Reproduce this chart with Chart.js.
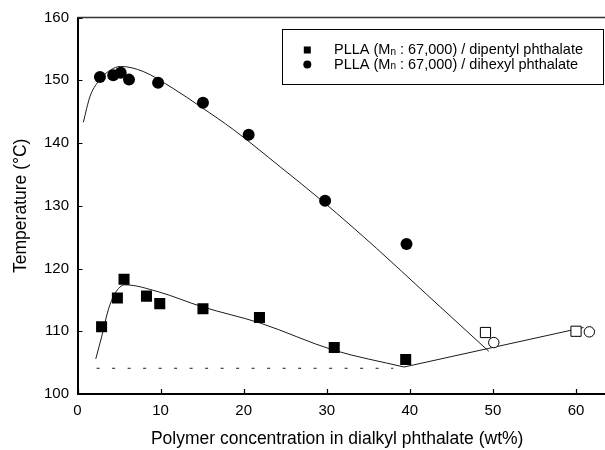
<!DOCTYPE html>
<html>
<head>
<meta charset="utf-8">
<script src="https://cdn.jsdelivr.net/npm/chart.js@4"></script>
<style>
  html, body { margin: 0; padding: 0; background: #fff; }
  #wrap { width: 605px; height: 450px; position: relative; }
</style>
</head>
<body>
<div id="wrap"><canvas id="phaseChart"></canvas></div>
<script>
// measured points (filled = dissolution temp, open = beyond the curve)
const dipentylX = [2.9, 4.8, 5.6, 8.3, 9.9, 15.1, 21.9, 30.9, 39.5];
const dipentylY = [110.7, 115.3, 118.3, 115.6, 114.4, 113.6, 112.2, 107.4, 105.5];
const dihexylX = [2.7, 4.3, 5.2, 6.2, 9.7, 15.1, 20.6, 29.8, 39.6];
const dihexylY = [150.5, 150.8, 151.2, 150.1, 149.6, 146.4, 141.3, 130.8, 123.9];

const dipentylOpenX = [49.1, 60.0];
const dipentylOpenY = [109.8, 110.0];
const dihexylOpenX = [50.1, 61.6];
const dihexylOpenY = [108.2, 109.9];

// fitted curves
const dihexylCurveX = [0.7, 1.5, 2.5, 3.5, 5.2, 7.9, 11.5, 14.8, 18.8, 24.4, 29.6, 36.0, 42.0, 49.5];
const dihexylCurveY = [143.3, 147.4, 149.8, 151.2, 152.2, 151.4, 148.7, 145.8, 142.1, 136.2, 130.6, 123.2, 115.9, 106.8];
const dipentylCurveX = [2.2, 2.9, 3.7, 4.5, 5.7, 9.7, 15.0, 22.0, 30.8, 39.3];
const dipentylCurveY = [105.6, 109.1, 113.4, 116.0, 117.4, 116.3, 113.9, 111.3, 107.0, 104.3];
const crystalLineX = [39.3, 60.9];
const crystalLineY = [104.3, 110.6];
const dashedX = [2.3, 38.0];
const dashedY = [104.1, 104.1];

const xTicks = [0, 10, 20, 30, 40, 50, 60];
const yTicks = [100, 110, 120, 130, 140, 150, 160];

const legendLabels = [
    { style: 'rect', pre: 'PLLA (M', sub: 'n', post: ' : 67,000) / dipentyl phthalate' },
    { style: 'circle', pre: 'PLLA (M', sub: 'n', post: ' : 67,000) / dihexyl phthalate' },
];

function toPoints(xs, ys) {
    return xs.map((x, i) => ({ x: x, y: ys[i] }));
}

const FONT = "'Liberation Sans', Arial, Helvetica, sans-serif";

// inward ticks, frame lines running to the page edge, and the boxed legend
const framePlugin = {
    id: 'frame',
    afterDraw(chart) {
        const { ctx, chartArea: area, scales: { x, y } } = chart;
        ctx.save();
        ctx.strokeStyle = '#000';
        ctx.lineWidth = 1.2;
        ctx.beginPath();
        xTicks.forEach((v) => {
            const px = Math.round(x.getPixelForValue(v)) + 0.5;
            ctx.moveTo(px, area.bottom);
            ctx.lineTo(px, area.bottom - 5);
        });
        yTicks.forEach((v) => {
            const py = Math.round(y.getPixelForValue(v)) + 0.5;
            ctx.moveTo(area.left, py);
            ctx.lineTo(area.left + 5, py);
        });
        ctx.stroke();

        // bottom axis continues past the scale's end
        ctx.lineWidth = 2;
        ctx.beginPath();
        ctx.moveTo(area.right - 1, area.bottom);
        ctx.lineTo(605, area.bottom);
        ctx.stroke();

        ctx.strokeStyle = '#333';
        ctx.lineWidth = 1.6;
        ctx.beginPath();
        ctx.moveTo(area.left, area.top);
        ctx.lineTo(605, area.top);
        ctx.stroke();

        // legend
        const bx = 282.5, by = 29.5, bw = 321, bh = 55;
        ctx.fillStyle = '#fff';
        ctx.fillRect(bx, by, bw, bh);
        ctx.strokeStyle = '#000';
        ctx.lineWidth = 1;
        ctx.strokeRect(bx, by, bw, bh);

        const rows = [50, 64.5];
        legendLabels.forEach((item, i) => {
            const cy = rows[i];
            ctx.fillStyle = '#000';
            if (item.style === 'rect') {
                ctx.fillRect(303.8, cy - 3.5, 7, 7);
            } else {
                ctx.beginPath();
                ctx.arc(307.3, cy, 4, 0, Math.PI * 2);
                ctx.fill();
            }
            ctx.textBaseline = 'middle';
            ctx.textAlign = 'left';
            let tx = 334;
            ctx.font = '14.5px ' + FONT;
            ctx.fillText(item.pre, tx, cy);
            tx += ctx.measureText(item.pre).width;
            ctx.font = '10px ' + FONT;
            ctx.fillText(item.sub, tx, cy + 2);
            tx += ctx.measureText(item.sub).width;
            ctx.font = '14.5px ' + FONT;
            ctx.fillText(item.post, tx, cy);
        });
        ctx.restore();
    },
};

const lineStyle = {
    showLine: true,
    pointRadius: 0,
    borderColor: '#1a1a1a',
    borderWidth: 1,
    fill: false,
};

const chartCanvas = document.getElementById('phaseChart').getContext('2d');

const phaseChart = new Chart(chartCanvas, {
    type: 'scatter',
    data: {
        datasets: [
            {
                label: 'PLLA / dipentyl phthalate',
                data: toPoints(dipentylX, dipentylY),
                pointStyle: 'rect',
                pointRadius: 7.8,
                backgroundColor: '#000',
                borderColor: '#000',
                borderWidth: 0,
            },
            {
                label: 'PLLA / dihexyl phthalate',
                data: toPoints(dihexylX, dihexylY),
                pointStyle: 'circle',
                pointRadius: 6,
                backgroundColor: '#000',
                borderColor: '#000',
                borderWidth: 0,
            },
            {
                label: 'dipentyl (open)',
                data: toPoints(dipentylOpenX, dipentylOpenY),
                pointStyle: 'rect',
                pointRadius: 7.2,
                backgroundColor: '#fff',
                borderColor: '#000',
                borderWidth: 1,
            },
            {
                label: 'dihexyl (open)',
                data: toPoints(dihexylOpenX, dihexylOpenY),
                pointStyle: 'circle',
                pointRadius: 5.2,
                backgroundColor: '#fff',
                borderColor: '#000',
                borderWidth: 1,
            },
            {
                ...lineStyle,
                label: 'dihexyl curve',
                data: toPoints(dihexylCurveX, dihexylCurveY),
                cubicInterpolationMode: 'monotone',
            },
            {
                ...lineStyle,
                label: 'dipentyl curve',
                data: toPoints(dipentylCurveX, dipentylCurveY),
                cubicInterpolationMode: 'monotone',
            },
            {
                ...lineStyle,
                label: 'crystallization line',
                data: toPoints(crystalLineX, crystalLineY),
                tension: 0,
            },
            {
                ...lineStyle,
                label: 'dashed',
                data: toPoints(dashedX, dashedY),
                borderDash: [3, 12.5],
                tension: 0,
            },
        ],
    },
    options: {
        responsive: true,
        maintainAspectRatio: false,
        animation: false,
        devicePixelRatio: 1,
        layout: {
            padding: { top: 17.5, left: 0, right: 0, bottom: 0 },
        },
        scales: {
            x: {
                type: 'linear',
                min: 0,
                max: 62.5,
                afterBuildTicks: (scale) => {
                    scale.ticks = xTicks.map((v) => ({ value: v }));
                },
                afterFit: (scale) => {
                    scale.height = 56;
                },
                grid: { display: false, drawTicks: false },
                border: { display: true, color: '#000', width: 2 },
                ticks: {
                    color: '#000',
                    padding: 8,
                    maxRotation: 0,
                    font: { family: FONT, size: 15 },
                },
                title: {
                    display: true,
                    text: 'Polymer concentration in dialkyl phthalate (wt%)',
                    color: '#000',
                    padding: { top: 0, bottom: 0 },
                    font: { family: FONT, size: 17.5 },
                },
            },
            y: {
                type: 'linear',
                min: 100,
                max: 160,
                afterBuildTicks: (scale) => {
                    scale.ticks = yTicks.map((v) => ({ value: v }));
                },
                afterFit: (scale) => {
                    scale.width = 77.5;
                },
                grid: { display: false, drawTicks: false },
                border: { display: true, color: '#000', width: 2 },
                ticks: {
                    color: '#000',
                    padding: 8.5,
                    font: { family: FONT, size: 15 },
                },
                title: {
                    display: true,
                    text: 'Temperature (°C)',
                    color: '#000',
                    padding: { top: 11, bottom: 0 },
                    font: { family: FONT, size: 17.5 },
                },
            },
        },
        plugins: {
            legend: { display: false },
            tooltip: { enabled: false },
        },
    },
    plugins: [framePlugin],
});
</script>
</body>
</html>
